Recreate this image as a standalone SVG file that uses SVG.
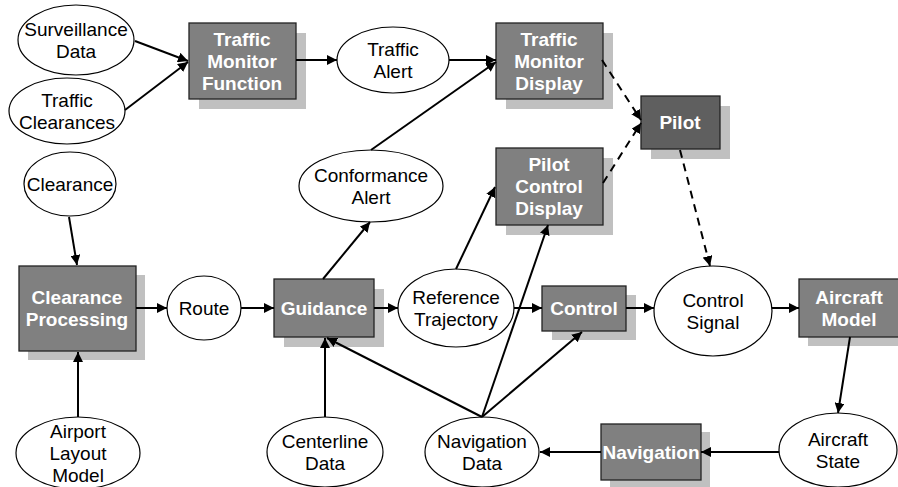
<svg xmlns="http://www.w3.org/2000/svg" width="898" height="487" viewBox="0 0 898 487">
<style>
.box{fill:#808080;stroke:#222;stroke-width:1.3}
.pilot{fill:#5f5f5f;stroke:#222;stroke-width:1.3}
.sh{fill:#c0c0c0}
.el{fill:#fff;stroke:#000;stroke-width:1.2}
.bt{font-family:"Liberation Sans",Arial,sans-serif;font-weight:bold;font-size:19px;fill:#fff;text-anchor:middle}
.et{font-family:"Liberation Sans",Arial,sans-serif;font-size:19px;fill:#000;text-anchor:middle}
.c{stroke:#000;stroke-width:2;fill:none;marker-end:url(#ah)}
.d{stroke-dasharray:8,6}
</style>
<defs>
<marker id="ah" viewBox="0 0 10 10" refX="10" refY="5" markerWidth="5" markerHeight="5" orient="auto" markerUnits="strokeWidth">
<path d="M0,0 L10,5 L0,10 z" fill="#000"/>
</marker>
</defs>
<rect width="898" height="487" fill="#fff"/>

<g id="surveillance-data"><ellipse class="el" cx="76" cy="40" rx="58" ry="35"/><text class="et" x="76" y="36">Surveillance</text><text class="et" x="76" y="58">Data</text></g>
<g id="traffic-clearances"><ellipse class="el" cx="67" cy="111" rx="58" ry="33"/><text class="et" x="67" y="107">Traffic</text><text class="et" x="67" y="129">Clearances</text></g>
<g id="traffic-monitor-function"><rect class="sh" x="199" y="33" width="107" height="76"/><rect class="box" x="189" y="23" width="107" height="76"/><text class="bt" x="242" y="46">Traffic</text><text class="bt" x="242" y="68">Monitor</text><text class="bt" x="242" y="90">Function</text></g>
<g id="traffic-alert"><ellipse class="el" cx="393" cy="60" rx="56" ry="33"/><text class="et" x="393" y="56">Traffic</text><text class="et" x="393" y="78">Alert</text></g>
<g id="traffic-monitor-display"><rect class="sh" x="506" y="33" width="107" height="76"/><rect class="box" x="496" y="23" width="107" height="76"/><text class="bt" x="549" y="46">Traffic</text><text class="bt" x="549" y="68">Monitor</text><text class="bt" x="549" y="90">Display</text></g>
<g id="pilot"><rect class="sh" x="651" y="106" width="79" height="53"/><rect class="pilot" x="641" y="96" width="79" height="53"/><text class="bt" x="680" y="129">Pilot</text></g>
<g id="pilot-control-display"><rect class="sh" x="506" y="158" width="107" height="77"/><rect class="box" x="496" y="148" width="107" height="77"/><text class="bt" x="549" y="171">Pilot</text><text class="bt" x="549" y="193">Control</text><text class="bt" x="549" y="215">Display</text></g>
<g id="conformance-alert"><ellipse class="el" cx="371" cy="186" rx="72" ry="36"/><text class="et" x="371" y="182">Conformance</text><text class="et" x="371" y="204">Alert</text></g>
<g id="clearance"><ellipse class="el" cx="70" cy="184" rx="46" ry="32"/><text class="et" x="70" y="191">Clearance</text></g>
<g id="clearance-processing"><rect class="sh" x="28" y="275" width="117" height="85"/><rect class="box" x="19" y="266" width="117" height="85"/><text class="bt" x="77" y="304">Clearance</text><text class="bt" x="77" y="326">Processing</text></g>
<g id="route"><ellipse class="el" cx="204" cy="308" rx="37" ry="32"/><text class="et" x="204" y="315">Route</text></g>
<g id="guidance"><rect class="sh" x="284" y="289" width="100" height="58"/><rect class="box" x="274" y="279" width="100" height="58"/><text class="bt" x="324" y="315">Guidance</text></g>
<g id="reference-trajectory"><ellipse class="el" cx="456" cy="308" rx="58" ry="39"/><text class="et" x="456" y="304">Reference</text><text class="et" x="456" y="326">Trajectory</text></g>
<g id="control"><rect class="sh" x="552" y="295" width="84" height="45"/><rect class="box" x="542" y="286" width="84" height="45"/><text class="bt" x="584" y="315">Control</text></g>
<g id="control-signal"><ellipse class="el" cx="713" cy="311" rx="59" ry="45"/><text class="et" x="713" y="307">Control</text><text class="et" x="713" y="329">Signal</text></g>
<g id="aircraft-model"><rect class="sh" x="808" y="288" width="102" height="58"/><rect class="box" x="799" y="279" width="102" height="58"/><text class="bt" x="849" y="304">Aircraft</text><text class="bt" x="849" y="326">Model</text></g>
<g id="airport-layout-model"><ellipse class="el" cx="78" cy="453" rx="62" ry="36"/><text class="et" x="78" y="438">Airport</text><text class="et" x="78" y="460">Layout</text><text class="et" x="78" y="482">Model</text></g>
<g id="centerline-data"><ellipse class="el" cx="325" cy="452" rx="58" ry="35"/><text class="et" x="325" y="448">Centerline</text><text class="et" x="325" y="470">Data</text></g>
<g id="navigation-data"><ellipse class="el" cx="482" cy="452" rx="57" ry="35"/><text class="et" x="482" y="448">Navigation</text><text class="et" x="482" y="470">Data</text></g>
<g id="navigation"><rect class="sh" x="610" y="432" width="100" height="56"/><rect class="box" x="601" y="424" width="100" height="56"/><text class="bt" x="651" y="459">Navigation</text></g>
<g id="aircraft-state"><ellipse class="el" cx="838" cy="450" rx="59" ry="37"/><text class="et" x="838" y="446">Aircraft</text><text class="et" x="838" y="468">State</text></g>

<g id="connectors">
<line class="c" x1="135" y1="41" x2="188" y2="61"/>
<line class="c" x1="125" y1="110" x2="188" y2="62"/>
<line class="c" x1="296" y1="60" x2="337" y2="60"/>
<line class="c" x1="449" y1="60" x2="496" y2="60"/>
<line class="c" x1="371" y1="150" x2="496" y2="62"/>
<line class="c d" x1="602" y1="60" x2="641" y2="120"/>
<line class="c d" x1="603" y1="183" x2="641" y2="123"/>
<line class="c d" x1="680" y1="150" x2="710" y2="266"/>
<line class="c" x1="69" y1="217" x2="77" y2="265"/>
<line class="c" x1="78" y1="417" x2="78" y2="352"/>
<line class="c" x1="136" y1="308" x2="167" y2="308"/>
<line class="c" x1="241" y1="308" x2="274" y2="308"/>
<line class="c" x1="323" y1="279" x2="370" y2="222"/>
<line class="c" x1="374" y1="308" x2="398" y2="308"/>
<line class="c" x1="456" y1="269" x2="495" y2="187"/>
<line class="c" x1="514" y1="308" x2="542" y2="308"/>
<line class="c" x1="626" y1="308" x2="654" y2="308"/>
<line class="c" x1="772" y1="308" x2="799" y2="308"/>
<line class="c" x1="850" y1="337" x2="838" y2="413"/>
<line class="c" x1="779" y1="452" x2="701" y2="452"/>
<line class="c" x1="601" y1="452" x2="540" y2="452"/>
<line class="c" x1="325" y1="417" x2="325" y2="338"/>
<line class="c" x1="482" y1="417" x2="327" y2="338"/>
<line class="c" x1="482" y1="417" x2="548" y2="225"/>
<line class="c" x1="482" y1="417" x2="582" y2="332"/>
</g>
</svg>
